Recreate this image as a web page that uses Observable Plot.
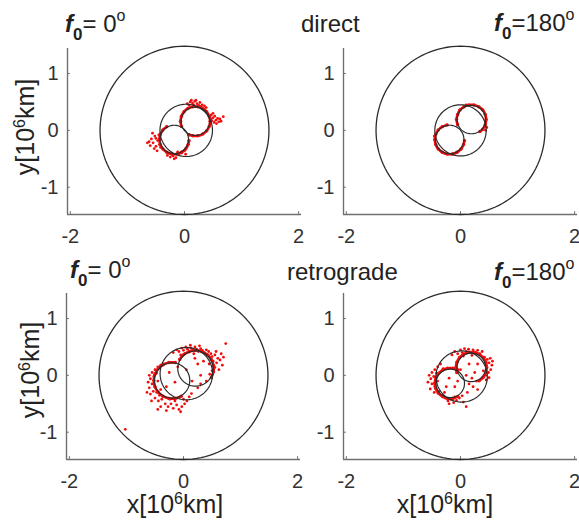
<!DOCTYPE html>
<html><head><meta charset="utf-8">
<script src="https://cdn.jsdelivr.net/npm/d3@7"></script>
<script src="https://cdn.jsdelivr.net/npm/@observablehq/plot@0.6"></script>
<style>
html,body{margin:0;padding:0;background:#fff;overflow:hidden;}
#fig{position:relative;width:579px;height:522px;overflow:hidden;background:#fff;}
#fig svg{position:absolute;}
</style></head>
<body><div id="fig"></div>
<script>
// ---------- data ----------
const xTicks = [-2, 0, 2];
const yTicks = [-1, 0, 1];
const xDomain = [-2.05, 2.05];
const yDomain = [-1.48, 1.44];
const outerCircle = [0, 0, 1.48];           // cx, cy, r  (10^6 km)

const titlesLeft = ["= 0", "= 0"];
const titlesRight = ["=180", "=180"];
const rowLabels = ["direct", "retrograde"];
const xLabel = ["x[10", "6", "km]"];
const yLabel = ["y[10", "6", "km]"];

// inner circle and figure-eight lobes (cx, cy, r)
const innerTL = [0.03, 0.0, 0.46];
const lobesTL = [[0.19, 0.16, 0.25], [-0.18, -0.16, 0.25]];
const innerTR = [0.0, 0.0, 0.45];
const lobesTR = [[0.19, 0.19, 0.25], [-0.19, -0.16, 0.25]];
const innerBL = [0.05, 0.03, 0.46];
const lobesBL = [[0.21, 0.12, 0.31], [-0.2, -0.09, 0.31]];
const innerBR = [0.02, -0.02, 0.45];
const lobesBR = [[0.19, 0.14, 0.25], [-0.18, -0.14, 0.25]];

// red dense traces (x, y)
const traceTL1 = [[-0.054,0.071],[-0.07,0.16],[-0.054,0.249],[-0.009,0.327],[0.06,0.385],[0.145,0.416],[0.235,0.416],[0.32,0.385],[0.389,0.327],[0.434,0.249],[0.45,0.16],[0.434,0.071],[0.389,-0.007],[0.32,-0.065],[0.235,-0.096],[0.145,-0.096],[0.08,-0.076]];
const traceTL2 = [[-0.31,0.065],[-0.379,0.007],[-0.424,-0.071],[-0.44,-0.16],[-0.424,-0.249],[-0.379,-0.327],[-0.31,-0.385],[-0.225,-0.416],[-0.135,-0.416],[-0.05,-0.385],[0.019,-0.327],[0.064,-0.249],[0.079,-0.18]];
const traceTR1 = [[-0.05,0.10],[-0.07,0.19],[-0.05,0.28],[-0.01,0.36],[0.06,0.415],[0.145,0.446],[0.235,0.446],[0.32,0.415],[0.39,0.36],[0.434,0.28],[0.45,0.19],[0.434,0.10],[0.39,0.02],[0.34,-0.02]];
const traceTR2 = [[-0.235,0.096],[-0.32,0.065],[-0.39,0.007],[-0.434,-0.071],[-0.45,-0.16],[-0.434,-0.249],[-0.39,-0.327],[-0.32,-0.385],[-0.235,-0.416],[-0.145,-0.416],[-0.06,-0.385],[0.01,-0.327],[0.054,-0.249],[0.07,-0.18]];
const traceBL1 = [[0.487,-0.04],[0.525,0.064],[0.525,0.176],[0.487,0.28],[0.416,0.365],[0.319,0.421],[0.21,0.44],[0.101,0.421],[0.004,0.365],[-0.067,0.28]];
const traceBL2 = [[-0.144,0.225],[-0.256,0.225],[-0.36,0.187],[-0.445,0.116],[-0.501,0.019],[-0.52,-0.09],[-0.501,-0.199],[-0.445,-0.296],[-0.36,-0.367],[-0.256,-0.405],[-0.144,-0.405],[-0.04,-0.367]];
const traceBR1 = [[0.325,-0.094],[0.397,-0.034],[0.444,0.048],[0.46,0.14],[0.444,0.232],[0.397,0.314],[0.325,0.374],[0.237,0.406],[0.143,0.406],[0.055,0.374],[-0.017,0.314],[-0.064,0.232],[-0.08,0.14],[-0.064,0.048]];
const traceBR2 = [[-0.045,0.094],[-0.133,0.126],[-0.227,0.126],[-0.315,0.094],[-0.387,0.034],[-0.434,-0.048],[-0.45,-0.14],[-0.434,-0.232],[-0.387,-0.314],[-0.315,-0.374],[-0.227,-0.406],[-0.133,-0.406],[-0.045,-0.374]];

// red scattered end points (x, y)
const dotsTL = [[0.05,0.47],[0.10,0.50],[0.14,0.48],[0.18,0.51],[0.22,0.47],[0.27,0.49],[0.31,0.45],[0.35,0.43],[0.08,0.44],[0.16,0.45],[0.25,0.44],[0.12,0.53],[0.2,0.53],[0.29,0.42],[0.38,0.40],
 [0.47,0.27],[0.5,0.22],[0.53,0.25],[0.55,0.18],[0.58,0.21],[0.6,0.15],[0.52,0.14],[0.48,0.17],[0.56,0.12],[0.62,0.2],[0.68,0.24],[0.64,0.16],[0.5,0.3],[0.46,0.2],
 [-0.62,-0.2],[-0.58,-0.15],[-0.55,-0.22],[-0.52,-0.1],[-0.5,-0.28],[-0.47,-0.18],[-0.45,-0.08],[-0.42,-0.3],[-0.6,-0.27],[-0.65,-0.22],[-0.53,-0.32],[-0.48,-0.36],[-0.56,-0.05],[-0.44,-0.25],[-0.5,-0.14],
 [-0.3,-0.44],[-0.25,-0.47],[-0.2,-0.45],[-0.15,-0.48],[-0.1,-0.43],[-0.05,-0.4],[0.0,-0.36],[0.04,-0.3],[-0.22,-0.4],[-0.12,-0.38],[0.02,-0.42],[-0.18,-0.5]];
const dotsTR = [[0.46,0.05],[0.44,0.0],[-0.46,-0.1],[0.1,0.45]];
const dotsBL = [[-0.18,0.40],[-0.12,0.45],[-0.08,0.42],[-0.03,0.48],[0.0,0.44],[0.04,0.50],[0.07,0.46],[0.1,0.41],[0.13,0.48],[0.16,0.44],[0.2,0.50],[0.23,0.46],[0.26,0.42],[0.3,0.47],[0.33,0.44],[0.36,0.40],[0.4,0.45],[0.44,0.42],[0.48,0.38],[0.02,0.38],[-0.05,0.36],[0.18,0.38],[0.28,0.52],[0.12,0.53],
 [0.50,0.33],[0.55,0.36],[0.6,0.30],[0.52,0.25],[0.58,0.22],[0.64,0.27],[0.68,0.18],[0.55,0.14],[0.62,0.10],[0.5,0.08],[0.46,0.02],[0.7,0.32],[0.74,0.56],[0.57,0.42],[0.45,0.2],[0.66,0.38],
 [-0.45,0.15],[-0.5,0.1],[-0.55,0.05],[-0.6,0.0],[-0.58,-0.06],[-0.52,-0.02],[-0.47,0.04],[-0.62,-0.12],[-0.55,-0.15],[-0.5,-0.2],[-0.45,-0.1],[-0.6,-0.22],[-0.53,-0.28],[-0.47,-0.3],[-0.42,-0.35],[-0.58,-0.33],[-0.5,-0.4],[-0.44,-0.45],[-0.38,-0.42],[-0.4,-0.25],[-0.35,0.2],[-0.4,0.18],[-0.64,-0.3],[-0.56,-0.45],
 [-0.32,-0.5],[-0.27,-0.55],[-0.22,-0.5],[-0.18,-0.58],[-0.12,-0.52],[-0.08,-0.6],[-0.03,-0.55],[0.02,-0.5],[0.06,-0.45],[-0.3,-0.62],[-0.15,-0.45],[-0.05,-0.64],[0.1,-0.38],[0.14,-0.32],[-0.24,-0.42],[-0.4,-0.55],[-0.45,-0.6],[0.0,-0.42],
 [-0.25,0.05],[-0.15,-0.12],[0.05,0.1],[0.25,0.2],[0.3,0.0],[0.15,-0.1],[-0.3,-0.2],[0.35,0.25],[-0.1,0.15],[0.2,0.3],
 [0.3,-0.15],[0.25,-0.22],[0.4,-0.1],[-1.02,-0.95]];
const dotsBR = [[-0.15,0.36],[-0.1,0.42],[-0.05,0.38],[0.0,0.45],[0.03,0.40],[0.07,0.47],[0.1,0.42],[0.14,0.46],[0.18,0.40],[0.22,0.45],[0.26,0.41],[0.3,0.44],[0.34,0.38],[0.38,0.42],[0.05,0.34],[0.2,0.35],
 [0.42,0.32],[0.47,0.28],[0.52,0.3],[0.5,0.22],[0.55,0.18],[0.46,0.15],[0.53,0.1],[0.49,0.05],[0.44,0.0],[0.5,-0.04],[0.56,0.25],[0.4,0.08],[0.45,-0.08],
 [-0.4,0.15],[-0.45,0.1],[-0.5,0.05],[-0.55,0.0],[-0.52,-0.06],[-0.47,-0.02],[-0.42,0.04],[-0.57,-0.12],[-0.5,-0.15],[-0.45,-0.2],[-0.4,-0.1],[-0.53,-0.24],[-0.46,-0.3],[-0.38,-0.28],[-0.35,0.2],[-0.3,0.12],
 [-0.32,-0.35],[-0.27,-0.4],[-0.22,-0.45],[-0.17,-0.42],[-0.12,-0.48],[-0.07,-0.44],[-0.02,-0.4],[0.03,-0.36],[-0.2,-0.5],[-0.1,-0.38],[0.05,-0.47],[0.1,-0.55],[0.12,-0.3],[-0.28,-0.3],
 [-0.2,-0.05],[-0.1,-0.2],[0.0,0.1],[0.15,0.2],[0.25,0.05],[-0.25,-0.2],[0.3,0.2],[0.1,0.0],[0.2,-0.05],[0.28,-0.1],[-0.05,-0.1],
 [0.15,-0.15],[0.22,-0.2],[0.3,-0.25]];

// ---------- layout ----------
const FONT = '"Liberation Sans", Arial, Helvetica, sans-serif';
const AXIS = "#6f6f6f", CURVE = "#2b2b2b", RED = "#f20d0d";
const ML = 66, MR = 10, MT = 18, MB = 40;
const FW = 234, FH = 166;
const W = ML + FW + MR, H = MT + FH + MB;
const fig = document.getElementById("fig");

function ring(c) {
  const [cx, cy, r] = c;
  return d3.range(0, 361, 3).map(a => [cx + r * Math.cos(a * Math.PI / 180), cy + r * Math.sin(a * Math.PI / 180)]);
}
const X = d => d[0], Y = d => d[1];

function panel(left, top, inner, lobes, traces, dots) {
  const chart = Plot.plot({
    width: W, height: H,
    marginLeft: ML, marginRight: MR, marginTop: MT, marginBottom: MB,
    x: {domain: xDomain, range: [ML, ML + FW]},
    y: {domain: yDomain, range: [MT + FH, MT]},
    style: {fontSize: "20px", fontFamily: FONT, color: "#333", background: "transparent", overflow: "visible"},
    marks: [
      Plot.ruleX([xDomain[0]], {stroke: AXIS, strokeWidth: 1.4}),
      Plot.ruleY([yDomain[0]], {stroke: AXIS, strokeWidth: 1.4}),
      Plot.ruleX(xTicks, {y1: yDomain[0], y2: yDomain[0] + 0.05, stroke: AXIS}),
      Plot.ruleY(yTicks, {x1: xDomain[0], x2: xDomain[0] + 0.05, stroke: AXIS}),
      Plot.line(ring(outerCircle), {x: X, y: Y, stroke: CURVE, strokeWidth: 1.3}),
      ...traces.map(t => Plot.line(t, {x: X, y: Y, stroke: RED, strokeWidth: 2.6, curve: "catmull-rom"})),
      ...traces.map(t => Plot.dot(t, {x: X, y: Y, r: 1.7, fill: RED, stroke: null})),
      Plot.dot(dots, {x: X, y: Y, r: 1.4, fill: RED, stroke: null}),
      Plot.line(ring(inner), {x: X, y: Y, stroke: CURVE, strokeWidth: 1.2}),
      ...lobes.map(l => Plot.line(ring(l), {x: X, y: Y, stroke: CURVE, strokeWidth: 1.2})),
      Plot.axisX(xTicks, {tickSize: 0, tickPadding: 14, tickFormat: d => String(d), label: null}),
      Plot.axisY(yTicks, {tickSize: 0, tickPadding: 9, tickFormat: d => String(d), label: null})
    ]
  });
  chart.style.left = left + "px";
  chart.style.top = top + "px";
  fig.appendChild(chart);
}

panel(1, 30, innerTL, lobesTL, [traceTL1, traceTL2], dotsTL);
panel(277, 30, innerTR, lobesTR, [traceTR1, traceTR2], dotsTR);
panel(0, 275, innerBL, lobesBL, [traceBL1, traceBL2], dotsBL);
panel(277, 275, innerBR, lobesBR, [traceBR1, traceBR2], dotsBR);

// ---------- text overlay ----------
const svg = d3.create("svg").attr("width", 579).attr("height", 522)
  .style("left", "0px").style("top", "0px")
  .attr("font-family", FONT).attr("fill", "#222");

function fTitle(x, y, rest, size) {
  const t = svg.append("text").attr("x", x).attr("y", y).attr("font-size", size);
  t.append("tspan").attr("font-weight", "bold").attr("font-style", "italic").text("f");
  t.append("tspan").attr("font-weight", "bold").attr("font-size", 17).attr("dy", 8).text("0");
  t.append("tspan").attr("dy", -8).text(rest);
  t.append("tspan").attr("font-size", 16).attr("dy", -11).text("o");
}
fTitle(65, 32, titlesLeft[0], 24);
fTitle(494, 31, titlesRight[0], 24);
fTitle(70, 278, titlesLeft[1], 24);
fTitle(494, 280, titlesRight[1], 24);

svg.append("text").attr("x", 301).attr("y", 32).attr("font-size", 24).text(rowLabels[0]);
svg.append("text").attr("x", 287).attr("y", 280).attr("font-size", 24).text(rowLabels[1]);

function label(parts, x, y, rotate) {
  const t = svg.append("text").attr("font-size", 25).attr("text-anchor", "middle")
    .attr("transform", `translate(${x},${y})` + (rotate ? " rotate(-90)" : ""));
  t.append("tspan").text(parts[0]);
  t.append("tspan").attr("font-size", 16).attr("dy", -9).text(parts[1]);
  t.append("tspan").attr("dy", 9).text(parts[2]);
}
label(yLabel, 34, 127, true);
label(yLabel, 39, 370, true);
label(xLabel, 175, 513, false);
label(xLabel, 445, 513, false);

fig.appendChild(svg.node());
</script>
</body></html>
